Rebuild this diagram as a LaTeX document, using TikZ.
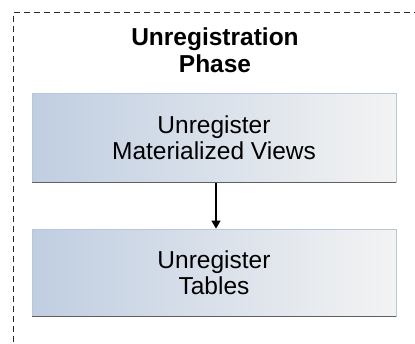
\documentclass[tikz,border=0pt]{standalone}
\usepackage{fontspec}
\setmainfont{Liberation Sans}
\usetikzlibrary{arrows.meta}
\definecolor{boxleft}{RGB}{192,206,225}
\definecolor{boxright}{RGB}{243,243,243}
\definecolor{boxline}{RGB}{182,198,220}
\definecolor{boxshadow}{RGB}{96,96,96}
\definecolor{frameline}{RGB}{40,40,40}
\begin{document}
\begin{tikzpicture}[x=1pt, y=-1pt,
    stepbox/.style = {rectangle, minimum width = 364pt, left color = boxleft, right color = boxright,
                      draw = boxline, line width = 0.8pt, align = center,
                      font = \fontsize{24.5}{26}\selectfont, inner sep = 0pt}]
    \useasboundingbox (0,0) rectangle (415,343);
    \draw[frameline, line width = 1.1pt, dash pattern = on 6pt off 4pt] (420,12.5) -- (13.5,12.5) -- (13.5,350);

    \node[font = \fontsize{24.5}{27}\selectfont\bfseries, align = center] (title) at (215,50) {Unregistration\\Phase};
    \node[stepbox, minimum height = 89pt] (views) at (214,137.5) {Unregister\\Materialized Views};
    \node[stepbox, minimum height = 87pt] (tables) at (214,272.5) {Unregister\\Tables};

    \draw[boxshadow, line width = 1.6pt] (views.south west) -- (views.south east);
    \draw[boxshadow, line width = 1.6pt] (tables.south west) -- (tables.south east);

    \draw[-{Triangle[length = 8pt, width = 9pt]}, line width = 1.5pt, shorten <= 0.8pt] ([xshift = 2pt]views.south) -- ([xshift = 2pt]tables.north);
\end{tikzpicture}
\end{document}
